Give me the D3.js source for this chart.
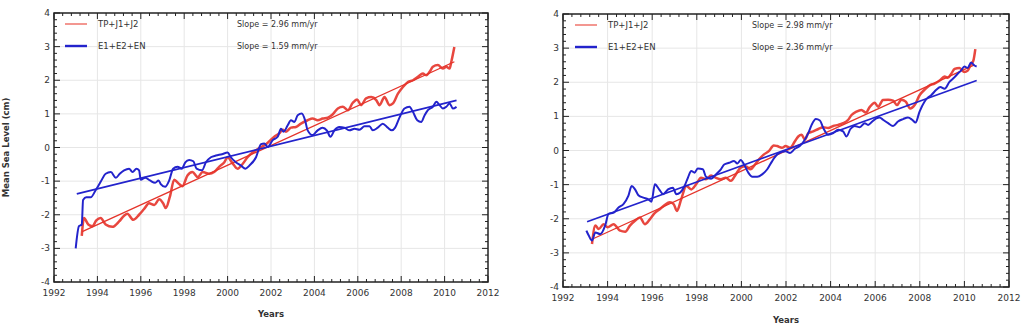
<!DOCTYPE html>
<html>
<head>
<meta charset="utf-8">
<script src="https://cdn.jsdelivr.net/npm/d3@7"></script>
<style>
  html, body { margin: 0; padding: 0; background: #fff; }
  svg { display: block; font-family: "DejaVu Sans", sans-serif; }
</style>
</head>
<body>
<svg id="chart" width="1028" height="324"></svg>
<script>
// Mean sea level, two panels: TP+J1+J2 (red) vs E1+E2+EN (blue), with linear trends.

var seriesNames = ["TP+J1+J2", "E1+E2+EN"];
var xTicks = [1992, 1994, 1996, 1998, 2000, 2002, 2004, 2006, 2008, 2010, 2012];
var yTicks = [-4, -3, -2, -1, 0, 1, 2, 3, 4];

// left panel
var leftSlopes = ["Slope = 2.96 mm/yr", "Slope = 1.59 mm/yr"];
var leftRed = [
  [1993.28,-2.63],[1993.38,-2.10],[1993.58,-2.29],[1993.77,-2.34],[1993.95,-2.17],[1994.15,-2.10],
  [1994.38,-2.29],[1994.69,-2.36],[1995.00,-2.20],[1995.23,-2.03],[1995.38,-1.97],[1995.65,-2.15],
  [1995.92,-2.00],[1996.15,-1.83],[1996.38,-1.66],[1996.62,-1.71],[1996.85,-1.54],[1997.03,-1.66],
  [1997.15,-1.80],[1997.34,-1.46],[1997.54,-0.96],[1997.74,-1.07],[1997.92,-1.15],[1998.15,-0.83],
  [1998.38,-0.73],[1998.62,-0.88],[1998.85,-0.73],[1999.15,-0.78],[1999.38,-0.73],[1999.62,-0.57],
  [1999.85,-0.44],[2000.00,-0.29],[2000.23,-0.47],[2000.46,-0.63],[2000.69,-0.49],[2000.92,-0.29],
  [2001.15,-0.15],[2001.46,-0.02],[2001.77,0.10],[2002.15,0.32],[2002.38,0.42],[2002.54,0.53],
  [2002.69,0.47],[2002.92,0.59],[2003.15,0.61],[2003.38,0.71],[2003.69,0.81],[2003.92,0.86],
  [2004.15,0.81],[2004.38,0.86],[2004.62,0.89],[2004.85,0.99],[2005.08,1.16],[2005.31,1.21],
  [2005.54,1.11],[2005.77,1.33],[2005.97,1.43],[2006.15,1.26],[2006.38,1.46],[2006.62,1.50],
  [2006.85,1.41],[2007.00,1.26],[2007.23,1.50],[2007.46,1.26],[2007.62,1.31],[2007.85,1.60],
  [2008.08,1.80],[2008.31,1.95],[2008.54,2.00],[2008.77,2.10],[2009.00,2.20],[2009.15,2.15],
  [2009.31,2.25],[2009.46,2.40],[2009.69,2.45],[2009.92,2.35],[2010.08,2.40],[2010.23,2.35],
  [2010.31,2.55],[2010.45,2.99]
];
var leftBlue = [
  [1993.00,-3.00],[1993.15,-2.34],[1993.28,-2.29],[1993.34,-1.56],[1993.49,-1.48],[1993.69,-1.48],
  [1993.92,-1.27],[1994.15,-1.02],[1994.38,-0.78],[1994.62,-0.73],[1994.85,-0.90],[1995.03,-0.78],
  [1995.23,-0.68],[1995.46,-0.63],[1995.62,-0.73],[1995.80,-0.63],[1995.92,-0.68],[1996.00,-0.96],
  [1996.20,-0.90],[1996.42,-0.98],[1996.66,-1.05],[1996.82,-0.98],[1996.92,-1.09],[1997.12,-1.17],
  [1997.31,-0.98],[1997.49,-0.63],[1997.69,-0.57],[1997.89,-0.63],[1998.05,-0.44],[1998.23,-0.37],
  [1998.42,-0.41],[1998.57,-0.63],[1998.82,-0.68],[1999.00,-0.44],[1999.23,-0.29],[1999.46,-0.24],
  [1999.74,-0.20],[2000.00,-0.15],[2000.15,-0.29],[2000.38,-0.44],[2000.62,-0.54],[2000.82,-0.63],
  [2001.00,-0.54],[2001.31,-0.29],[2001.54,0.10],[2001.69,0.12],[2001.85,0.02],[2002.08,0.22],
  [2002.31,0.32],[2002.46,0.56],[2002.58,0.47],[2002.77,0.66],[2002.92,0.81],[2003.08,0.76],
  [2003.23,0.96],[2003.42,1.01],[2003.57,0.81],[2003.69,0.51],[2003.92,0.37],[2004.15,0.51],
  [2004.38,0.59],[2004.58,0.50],[2004.74,0.32],[2004.92,0.51],[2005.15,0.61],[2005.38,0.59],
  [2005.62,0.51],[2005.85,0.56],[2006.08,0.53],[2006.31,0.63],[2006.54,0.63],[2006.69,0.51],
  [2006.92,0.59],[2007.15,0.71],[2007.38,0.59],[2007.57,0.51],[2007.72,0.59],[2007.92,0.89],
  [2008.15,1.16],[2008.38,1.21],[2008.54,1.06],[2008.74,0.81],[2008.92,0.76],[2009.08,0.96],
  [2009.23,1.11],[2009.46,1.21],[2009.62,1.36],[2009.77,1.26],[2009.92,1.16],[2010.08,1.21],
  [2010.23,1.31],[2010.38,1.16],[2010.55,1.21]
];
var leftRedTrend = [[1993.30,-2.50],[2010.45,2.55]];
var leftBlueTrend = [[1993.05,-1.38],[2010.55,1.40]];

// right panel
var rightSlopes = ["Slope = 2.98 mm/yr", "Slope = 2.36 mm/yr"];
var rightRed = [
  [1993.30,-2.74],[1993.45,-2.20],[1993.60,-2.30],[1993.82,-2.16],[1994.00,-2.25],[1994.27,-2.16],
  [1994.56,-2.35],[1994.79,-2.38],[1995.00,-2.20],[1995.23,-2.06],[1995.45,-1.96],[1995.67,-2.16],
  [1995.90,-2.01],[1996.12,-1.83],[1996.34,-1.72],[1996.56,-1.60],[1996.79,-1.52],[1996.96,-1.57],
  [1997.11,-1.77],[1997.30,-1.43],[1997.53,-1.04],[1997.75,-1.14],[1997.97,-0.99],[1998.19,-0.80],
  [1998.41,-0.84],[1998.64,-0.73],[1998.86,-0.80],[1999.08,-0.84],[1999.30,-0.80],[1999.53,-0.89],
  [1999.75,-0.70],[1999.97,-0.50],[2000.19,-0.46],[2000.41,-0.55],[2000.61,-0.41],[2000.79,-0.26],
  [2001.00,-0.12],[2001.23,-0.02],[2001.45,0.15],[2001.60,0.13],[2001.82,0.08],[2001.98,0.13],
  [2002.18,0.08],[2002.40,0.27],[2002.55,0.41],[2002.70,0.46],[2002.85,0.32],[2003.00,0.51],
  [2003.22,0.56],[2003.45,0.63],[2003.67,0.68],[2003.89,0.66],[2004.12,0.72],[2004.34,0.75],
  [2004.56,0.80],[2004.79,0.90],[2004.94,1.04],[2005.16,1.14],[2005.38,1.19],[2005.58,1.11],
  [2005.76,1.28],[2005.98,1.40],[2006.13,1.28],[2006.35,1.48],[2006.58,1.49],[2006.80,1.46],
  [2006.98,1.33],[2007.17,1.49],[2007.37,1.43],[2007.57,1.23],[2007.77,1.33],[2007.99,1.62],
  [2008.21,1.78],[2008.44,1.91],[2008.66,1.96],[2008.89,2.05],[2009.11,2.17],[2009.26,2.13],
  [2009.41,2.25],[2009.56,2.39],[2009.78,2.42],[2010.00,2.30],[2010.15,2.34],[2010.30,2.54],
  [2010.40,2.63],[2010.49,2.97]
];
var rightBlue = [
  [1993.05,-2.35],[1993.16,-2.50],[1993.30,-2.64],[1993.45,-2.40],[1993.67,-2.45],[1993.90,-2.18],
  [1994.04,-1.86],[1994.27,-1.82],[1994.49,-1.67],[1994.71,-1.57],[1994.93,-1.33],[1995.08,-1.04],
  [1995.23,-1.14],[1995.38,-1.31],[1995.60,-1.38],[1995.82,-1.43],[1995.97,-1.50],[1996.12,-0.99],
  [1996.31,-1.14],[1996.49,-1.28],[1996.71,-1.14],[1996.93,-1.09],[1997.08,-1.28],[1997.26,-1.23],
  [1997.45,-1.04],[1997.60,-0.80],[1997.75,-0.60],[1997.90,-0.65],[1998.04,-0.53],[1998.27,-0.55],
  [1998.41,-0.77],[1998.64,-0.83],[1998.86,-0.70],[1999.08,-0.55],[1999.23,-0.41],[1999.45,-0.36],
  [1999.67,-0.31],[1999.82,-0.38],[1999.97,-0.28],[2000.12,-0.41],[2000.31,-0.65],[2000.49,-0.77],
  [2000.71,-0.77],[2000.93,-0.70],[2001.16,-0.55],[2001.38,-0.31],[2001.60,-0.12],[2001.82,-0.04],
  [2001.98,-0.02],[2002.18,-0.07],[2002.40,0.05],[2002.63,0.14],[2002.80,0.27],[2003.00,0.51],
  [2003.15,0.75],[2003.34,0.92],[2003.52,0.88],[2003.67,0.66],[2003.89,0.46],[2004.12,0.51],
  [2004.34,0.61],[2004.56,0.56],[2004.71,0.41],[2004.89,0.63],[2005.08,0.72],[2005.31,0.68],
  [2005.53,0.80],[2005.68,0.75],[2005.87,0.85],[2006.05,0.94],[2006.20,0.97],[2006.35,0.90],
  [2006.58,0.80],[2006.80,0.72],[2007.02,0.85],[2007.25,0.92],[2007.47,0.97],[2007.66,0.90],
  [2007.81,0.82],[2007.99,1.14],[2008.21,1.43],[2008.36,1.55],[2008.51,1.62],[2008.74,1.78],
  [2008.92,1.86],[2009.11,1.81],[2009.33,2.01],[2009.56,2.15],[2009.70,2.25],[2009.85,2.34],
  [2010.00,2.46],[2010.15,2.42],[2010.30,2.58],[2010.45,2.49],[2010.55,2.46]
];
var rightRedTrend = [[1993.30,-2.60],[2010.45,2.51]];
var rightBlueTrend = [[1993.08,-2.09],[2010.55,2.05]];

(function () {
  "use strict";
  var C = { red: "#e5332a", redLight: "#ee6a62", blue: "#2323cc", grid: "#e6e6e6", axis: "#222", text: "#333" };
  var svg = d3.select("#chart");
  svg.append("rect").attr("width", 1028).attr("height", 324).attr("fill", "#fff");

  drawPanel({ l: 54, r: 488, t: 13, b: 282, yLabel: true, xLabelY: 317,
    red: leftRed, blue: leftBlue, redTrend: leftRedTrend, blueTrend: leftBlueTrend,
    slopes: leftSlopes, legX: 65, slopeX: 237, legY: 24 });
  drawPanel({ l: 563, r: 1009, t: 14, b: 287, yLabel: false, xLabelY: 323,
    red: rightRed, blue: rightBlue, redTrend: rightRedTrend, blueTrend: rightBlueTrend,
    slopes: rightSlopes, legX: 575, slopeX: 752, legY: 25 });

  function drawPanel(p) {
    var x = d3.scaleLinear().domain([1992, 2012]).range([p.l, p.r]);
    var y = d3.scaleLinear().domain([-4, 4]).range([p.b, p.t]);
    var g = svg.append("g");

    // grid
    g.selectAll(null).data(xTicks.slice(1, -1)).enter().append("line")
      .attr("x1", function (d) { return x(d); }).attr("x2", function (d) { return x(d); })
      .attr("y1", p.t).attr("y2", p.b).attr("stroke", C.grid).attr("stroke-width", 1);
    g.selectAll(null).data(yTicks.slice(1, -1)).enter().append("line")
      .attr("y1", function (d) { return y(d); }).attr("y2", function (d) { return y(d); })
      .attr("x1", p.l).attr("x2", p.r).attr("stroke", C.grid).attr("stroke-width", 1);

    // inward ticks on all four sides
    var xMinor = d3.range(1992, 2012.001, 0.4);
    var yMinor = d3.range(-4, 4.001, 0.2);
    function isMajor(v) { return Math.abs(v - Math.round(v)) < 1e-6 && Math.round(v) % 2 === 0; }
    xMinor.forEach(function (v) {
      var len = isMajor(v) ? 6 : 3;
      g.append("line").attr("x1", x(v)).attr("x2", x(v)).attr("y1", p.b).attr("y2", p.b - len)
        .attr("stroke", C.axis).attr("stroke-width", 1);
      g.append("line").attr("x1", x(v)).attr("x2", x(v)).attr("y1", p.t).attr("y2", p.t + len)
        .attr("stroke", C.axis).attr("stroke-width", 1);
    });
    yMinor.forEach(function (v) {
      var len = Math.abs(v - Math.round(v)) < 1e-6 ? 6 : 3;
      g.append("line").attr("y1", y(v)).attr("y2", y(v)).attr("x1", p.l).attr("x2", p.l + len)
        .attr("stroke", C.axis).attr("stroke-width", 1);
      g.append("line").attr("y1", y(v)).attr("y2", y(v)).attr("x1", p.r).attr("x2", p.r - len)
        .attr("stroke", C.axis).attr("stroke-width", 1);
    });
    g.append("rect").attr("x", p.l).attr("y", p.t).attr("width", p.r - p.l).attr("height", p.b - p.t)
      .attr("fill", "none").attr("stroke", C.axis).attr("stroke-width", 1.5);

    // tick labels
    g.selectAll(null).data(xTicks).enter().append("text")
      .attr("x", function (d) { return x(d); }).attr("y", p.b + 14)
      .attr("text-anchor", "middle").style("font-size", "9px").attr("fill", C.text)
      .text(function (d) { return d; });
    g.selectAll(null).data(yTicks).enter().append("text")
      .attr("x", p.l - 4).attr("y", function (d) { return y(d) + 3; })
      .attr("text-anchor", "end").style("font-size", "9px").attr("fill", C.text)
      .text(function (d) { return d; });

    g.append("text").attr("x", (p.l + p.r) / 2).attr("y", p.xLabelY)
      .attr("text-anchor", "middle").style("font-size", "8.5px").style("font-weight", "bold")
      .attr("fill", C.text).text("Years");
    if (p.yLabel) {
      g.append("text").attr("transform", "translate(9," + ((p.t + p.b) / 2) + ") rotate(-90)")
        .attr("text-anchor", "middle").style("font-size", "8.5px").style("font-weight", "bold")
        .attr("fill", C.text).text("Mean Sea Level (cm)");
    }

    // series
    var line = d3.line().x(function (d) { return x(d[0]); }).y(function (d) { return y(d[1]); })
      .curve(d3.curveMonotoneX);
    var straight = d3.line().x(function (d) { return x(d[0]); }).y(function (d) { return y(d[1]); });
    g.append("path").attr("d", line(p.red)).attr("fill", "none").attr("stroke", C.red)
      .attr("stroke-width", 2.5).attr("stroke-linejoin", "round").attr("opacity", 0.9);
    g.append("path").attr("d", straight(p.redTrend)).attr("fill", "none").attr("stroke", C.red)
      .attr("stroke-width", 1.3);
    g.append("path").attr("d", line(p.blue)).attr("fill", "none").attr("stroke", C.blue)
      .attr("stroke-width", 2).attr("stroke-linejoin", "round");
    g.append("path").attr("d", straight(p.blueTrend)).attr("fill", "none").attr("stroke", C.blue)
      .attr("stroke-width", 1.7);

    // legend
    [C.redLight, C.blue].forEach(function (col, i) {
      var ly = p.legY + i * 22;
      g.append("line").attr("x1", p.legX).attr("x2", p.legX + 22).attr("y1", ly).attr("y2", ly)
        .attr("stroke", col).attr("stroke-width", i === 0 ? 1.4 : 2.4);
      g.append("text").attr("x", p.legX + 33).attr("y", ly + 3).style("font-size", "8.5px")
        .attr("fill", C.text).text(seriesNames[i]);
      g.append("text").attr("x", p.slopeX).attr("y", ly + 3).style("font-size", "8px")
        .attr("fill", C.text).text(p.slopes[i]);
    });
  }
})();
</script>
</body>
</html>
